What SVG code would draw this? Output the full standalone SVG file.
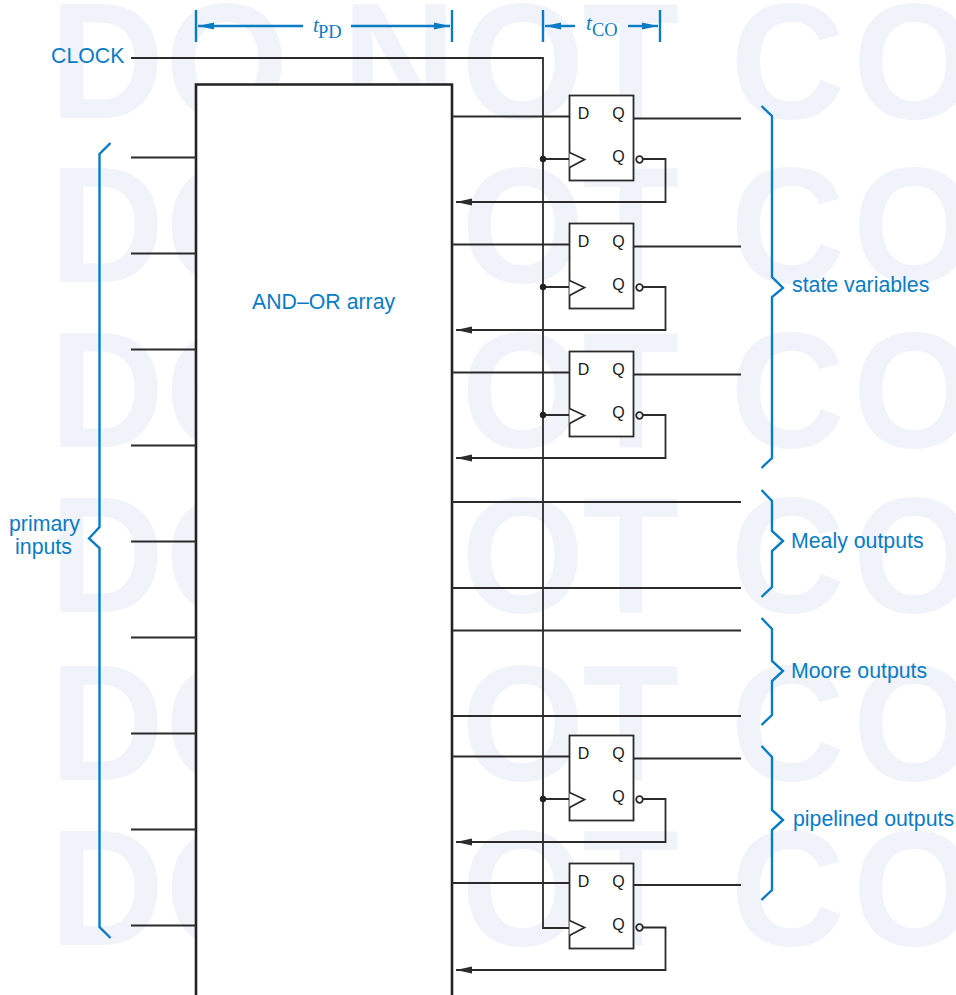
<svg xmlns="http://www.w3.org/2000/svg" xmlns:xlink="http://www.w3.org/1999/xlink" width="956" height="995" viewBox="0 0 956 995">
<style>
.wm{font:bold 166px "Liberation Sans",Arial,sans-serif;fill:#f0f3f9}
.k{fill:none;stroke:#2b2b2b;stroke-width:1.8}
.b{fill:none;stroke:#0a7cc4;stroke-width:2.400}
.lb{font:21.300px "Liberation Sans",Arial,sans-serif;fill:#0a7cc4}
.q{font:16px "Liberation Sans",Arial,sans-serif;fill:#1a1a1a;text-anchor:middle}
.t{font:italic 21px "Liberation Serif","Times New Roman",serif;fill:#0a7cc4}
.s{font:18.500px "Liberation Serif","Times New Roman",serif;fill:#0a7cc4}
</style>
<defs>
<marker id="ah" markerUnits="userSpaceOnUse" markerWidth="17" markerHeight="8" refX="16" refY="4" orient="auto" viewBox="0 0 17 8"><path d="M16 4 0 0.500 0 7.500Z" fill="#2b2b2b"/></marker>
<marker id="bh" markerUnits="userSpaceOnUse" markerWidth="17" markerHeight="8" refX="16" refY="4" orient="auto" viewBox="0 0 17 8"><path d="M16 4 0 0.500 0 7.500Z" fill="#0a7cc4"/></marker>
<g id="ff">
<rect class="k" x="0" y="0" width="64" height="85" style="fill:#fff"/>
<path class="k" d="M0 57 15 64 0 72" style="fill:#fff"/>
<text class="q" x="14" y="23">D</text>
<text class="q" x="49" y="23">Q</text>
<text class="q" x="49" y="66">Q</text>
<circle class="k" cx="70" cy="64" r="3.300"/>
</g>
</defs>
<rect width="956" height="995" fill="#fff"/>
<g id="watermark" transform="scale(.955 1)">
<text class="wm" x="52 173 309 358 483 610 725 765 893 1020 1150" y="118">DO NOT COPY</text>
<text class="wm" x="52 173 309 358 483 610 725 765 893 1020 1150" y="282">DO NOT COPY</text>
<text class="wm" x="52 173 309 358 483 610 725 765 893 1020 1150" y="447">DO NOT COPY</text>
<text class="wm" x="52 173 309 358 483 610 725 765 893 1020 1150" y="612">DO NOT COPY</text>
<text class="wm" x="52 173 309 358 483 610 725 765 893 1020 1150" y="780">DO NOT COPY</text>
<text class="wm" x="52 173 309 358 483 610 725 765 893 1020 1150" y="945">DO NOT COPY</text>
<text class="wm" x="52 173 309 358 483 610 725 765 893 1020 1150" y="1110">DO NOT COPY</text>
</g>
<g id="and-or-array">
<path d="M196 996V84.500H452V996" fill="#fff" stroke="#222" stroke-width="2.600"/>
<text class="lb" x="252" y="309">AND–OR array</text>
</g>
<g id="connectors">
<path class="k" d="M131 58H543V928H569"/>
<path class="k" d="M131 157.500H196M131 253.500H196M131 349.500H196M131 445.500H196M131 541.500H196M131 637.500H196M131 733.500H196M131 829.500H196M131 925.500H196"/>
<path class="k" d="M452 116.500H569M633 118.500H741M452 244.500H569M633 246.500H741M452 372.500H569M633 374.500H741M452 756.500H569M633 758.500H741M452 883H569M633 885H741"/>
<path class="k" d="M452 502H741M452 588H741M452 630.500H741M452 716H741"/>
<path class="k" d="M543 159H569M543 287H569M543 415H569M543 799H569"/>
<path class="k" marker-end="url(#ah)" d="M642 159H665.500V202H456"/>
<path class="k" marker-end="url(#ah)" d="M642 287H665.500V330H456"/>
<path class="k" marker-end="url(#ah)" d="M642 415H665.500V458H456"/>
<path class="k" marker-end="url(#ah)" d="M642 799H665.500V842H456"/>
<path class="k" marker-end="url(#ah)" d="M642 927.500H665.500V970H456"/>
<g fill="#222"><circle cx="543" cy="159" r="3.200"/><circle cx="543" cy="287" r="3.200"/><circle cx="543" cy="415" r="3.200"/><circle cx="543" cy="799" r="3.200"/></g>
<path class="b" d="M196 10V42M452 10V42M543 10V42M660 10V42"/>
<path class="b" marker-end="url(#bh)" d="M303 26H198"/>
<path class="b" marker-end="url(#bh)" d="M351 26H450"/>
<path class="b" marker-end="url(#bh)" d="M575 26H545"/>
<path class="b" marker-end="url(#bh)" d="M628 26H658"/>
</g>
<use id="ff1" xlink:href="#ff" href="#ff" x="569.500" y="95.500"/>
<use id="ff2" xlink:href="#ff" href="#ff" x="569.500" y="223.500"/>
<use id="ff3" xlink:href="#ff" href="#ff" x="569.500" y="351.500"/>
<use id="ff4" xlink:href="#ff" href="#ff" x="569.500" y="735.500"/>
<use id="ff5" xlink:href="#ff" href="#ff" x="569.500" y="863.500"/>
<g id="brace-primary"><path class="b" d="M110.500 143 99.500 154V527L89 538.500 99.500 548V927L110.500 938"/>
<text class="lb" x="44.500" y="531" text-anchor="middle">primary</text><text class="lb" x="43.500" y="554" text-anchor="middle">inputs</text></g>
<g id="brace-state"><path class="b" d="M761.500 106 772 116V277L783 288 772 297V458L761.500 468"/><text class="lb" x="792" y="292">state variables</text></g>
<g id="brace-mealy"><path class="b" d="M761.500 490 772 501V531L783 541 772 551V587L761.500 597"/><text class="lb" x="791" y="548">Mealy outputs</text></g>
<g id="brace-moore"><path class="b" d="M761.500 618 772 629V661L783 671 772 681V715L761.500 725"/><text class="lb" x="791" y="678">Moore outputs</text></g>
<g id="brace-pipelined"><path class="b" d="M761.500 746 772 757V810L783 820 772 830V890L761.500 900"/><text class="lb" x="793" y="826">pipelined outputs</text></g>
<g id="clock-label"><text class="lb" x="51" y="63">CLOCK</text></g>
<g id="tpd-label"><text class="t" x="313" y="32">t</text><text class="s" x="318" y="38">PD</text></g>
<g id="tco-label"><text class="t" x="586" y="30">t</text><text class="s" x="592" y="35.500">CO</text></g>
</svg>
